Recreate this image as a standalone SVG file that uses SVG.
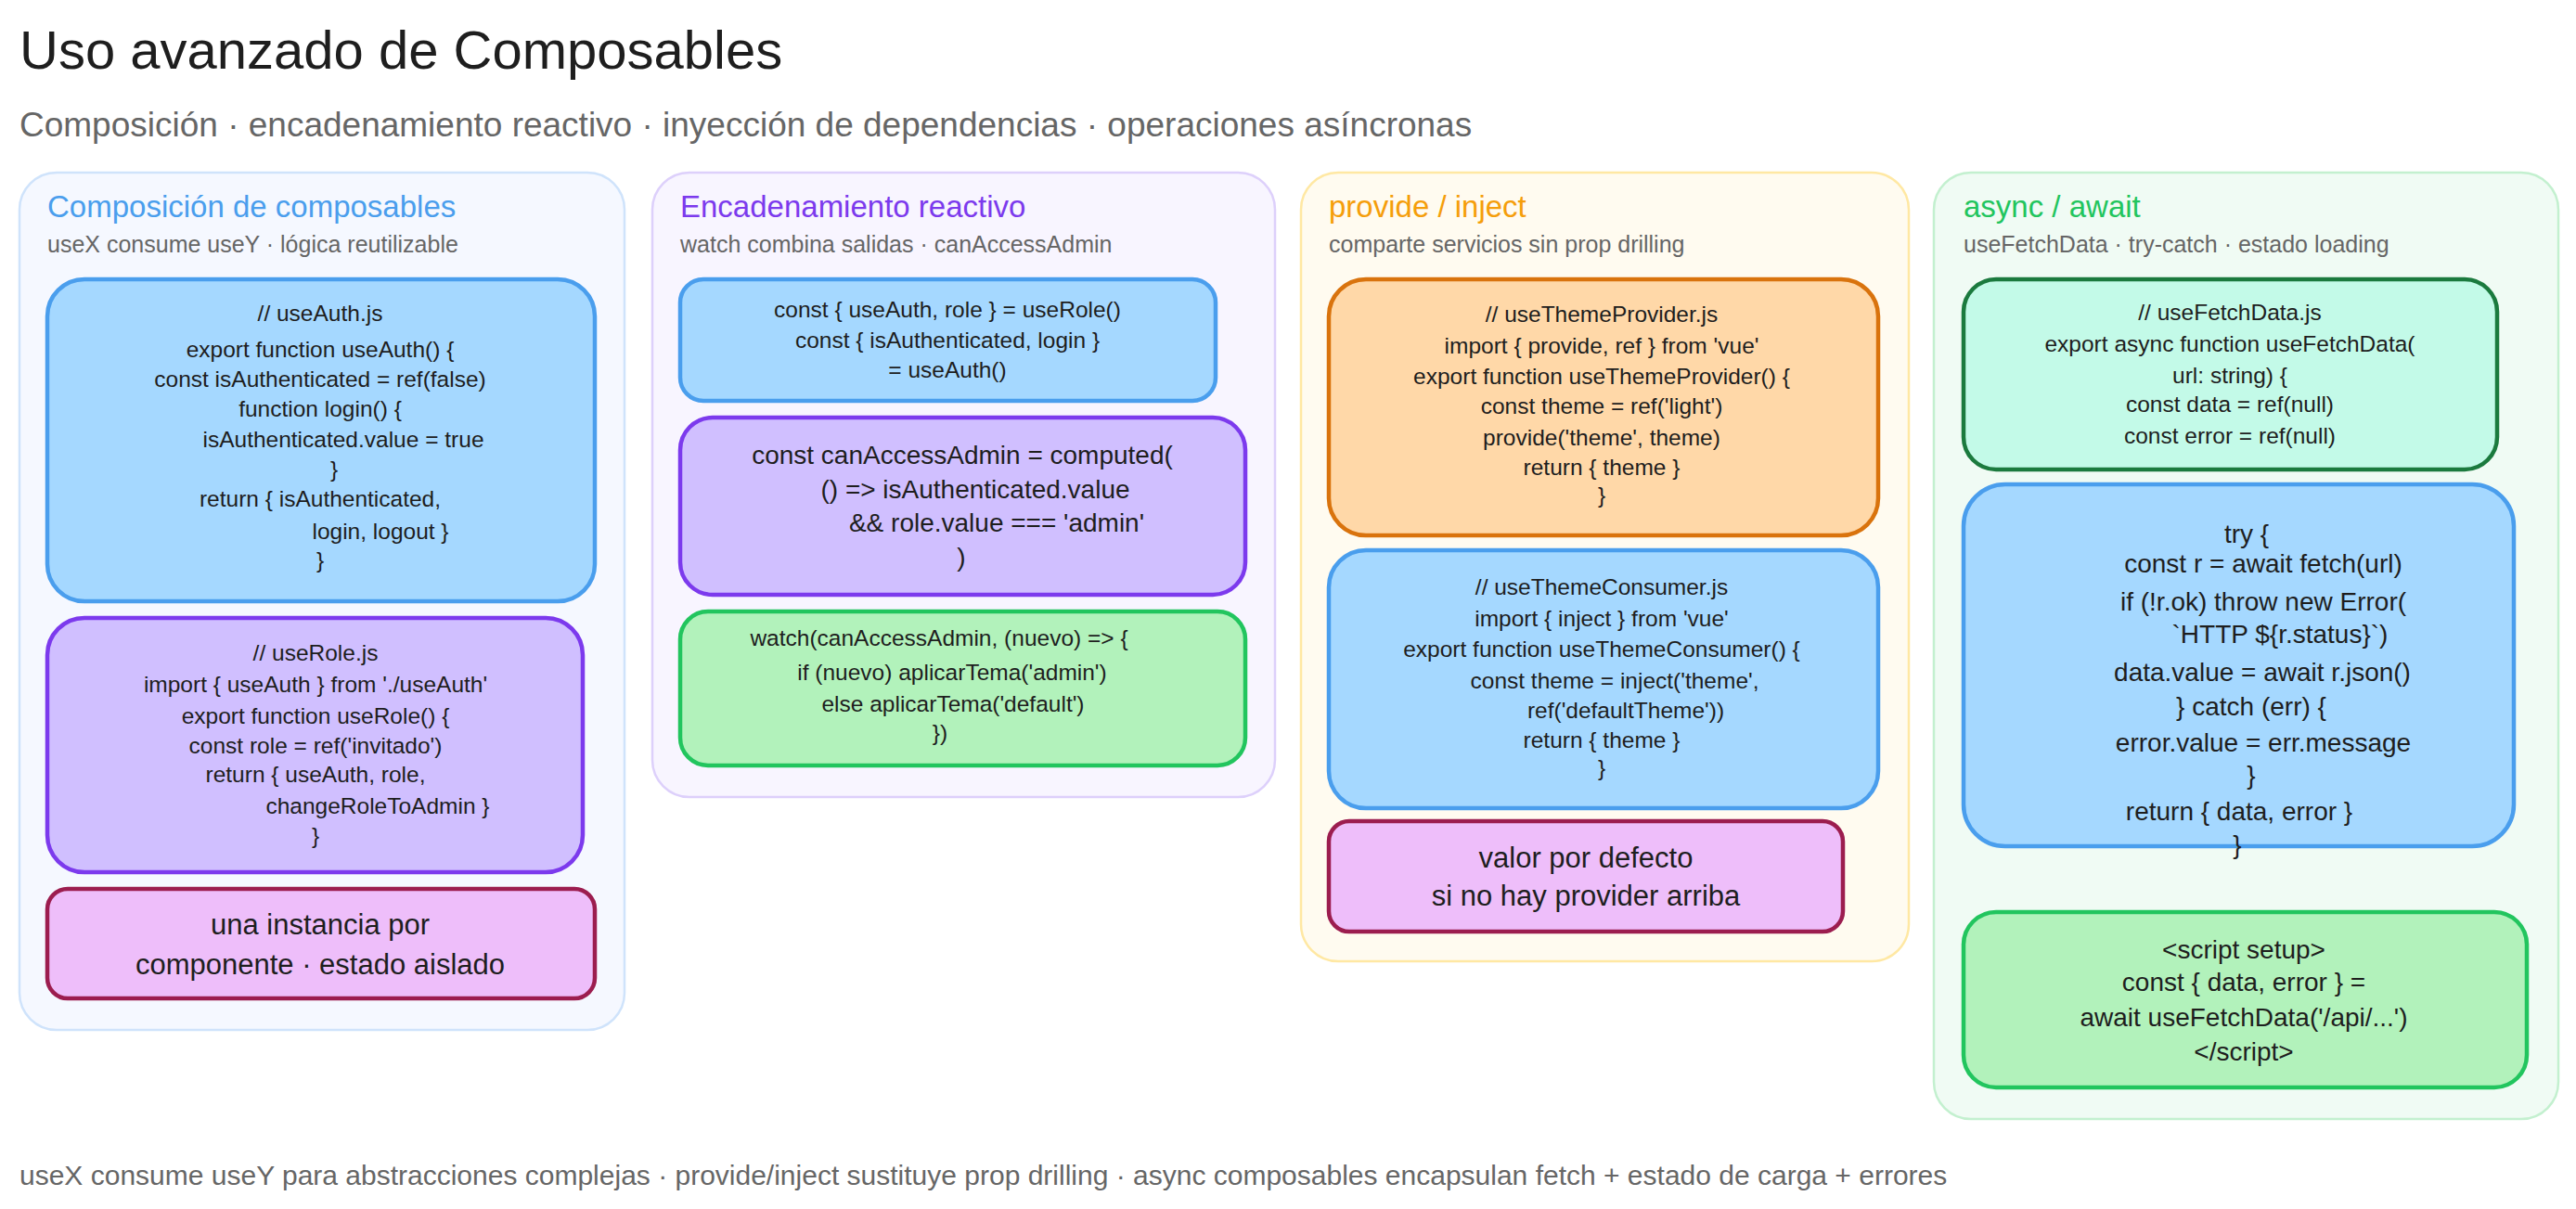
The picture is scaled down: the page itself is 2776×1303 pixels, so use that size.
<svg xmlns="http://www.w3.org/2000/svg" width="2776" height="1303" viewBox="0 0 2776 1303">
<style>
text{font-family:"Liberation Sans",Arial,sans-serif;fill:#1e1e1e}
.c{text-anchor:middle;font-size:24.5px}
.b{text-anchor:middle;font-size:28px}
.l{text-anchor:middle;font-size:31px}
.col{stroke-width:2.5}
.in{stroke-width:4.5}
.ht{font-size:33px}
.hs{font-size:25px;fill:#666}
</style>
<rect width="2776" height="1303" fill="#fff"/>
<text x="21" y="74" font-size="58" fill="#1e1e1e">Uso avanzado de Composables</text>
<text x="21" y="147" font-size="37" style="fill:#666">Composición · encadenamiento reactivo · inyección de dependencias · operaciones asíncronas</text>

<g id="col1">
<rect class="col" x="21" y="186" width="652" height="924" rx="40" fill="#f5f8ff" stroke="#cfe3fb"/>
<text x="51" y="234" class="ht" style="fill:#4a9eed">Composición de composables</text>
<text x="51" y="272" class="hs">useX consume useY · lógica reutilizable</text>
</g>
<g id="useAuth">
<rect class="in" x="51" y="301" width="590" height="347" rx="40" fill="#a5d8ff" stroke="#4a9eed"/>
<text class="c" x="345" y="346">// useAuth.js</text>
<text class="c" x="345" y="385">export function useAuth() {</text>
<text class="c" x="345" y="417">const isAuthenticated = ref(false)</text>
<text class="c" x="345" y="449">function login() {</text>
<text class="c" x="370" y="482">isAuthenticated.value = true</text>
<text class="c" x="360" y="514">}</text>
<text class="c" x="345" y="546">return { isAuthenticated,</text>
<text class="c" x="410" y="581">login, logout }</text>
<text class="c" x="345" y="612">}</text>
</g>
<g id="useRole">
<rect class="in" x="51" y="666" width="577" height="274" rx="40" fill="#d0bfff" stroke="#7c3aed"/>
<text class="c" x="340" y="712">// useRole.js</text>
<text class="c" x="340" y="746">import { useAuth } from './useAuth'</text>
<text class="c" x="340" y="780">export function useRole() {</text>
<text class="c" x="340" y="812">const role = ref('invitado')</text>
<text class="c" x="340" y="843">return { useAuth, role,</text>
<text class="c" x="407" y="877">changeRoleToAdmin }</text>
<text class="c" x="340" y="909">}</text>
</g>
<g id="instancia">
<rect class="in" x="51" y="958" width="590" height="118" rx="22" fill="#eebefa" stroke="#9c1d4f"/>
<text class="l" x="345" y="1007">una instancia por</text>
<text class="l" x="345" y="1050">componente · estado aislado</text>
</g>

<g id="col2">
<rect class="col" x="703" y="186" width="671" height="673" rx="40" fill="#f8f5ff" stroke="#ddd0fb"/>
<text x="733" y="234" class="ht" style="fill:#7c3aed">Encadenamiento reactivo</text>
<text x="733" y="272" class="hs">watch combina salidas · canAccessAdmin</text>
</g>
<g id="useRoleCall">
<rect class="in" x="733" y="301" width="577" height="131" rx="25" fill="#a5d8ff" stroke="#4a9eed"/>
<text class="c" x="1021" y="342">const { useAuth, role } = useRole()</text>
<text class="c" x="1021" y="375">const { isAuthenticated, login }</text>
<text class="c" x="1021" y="407">= useAuth()</text>
</g>
<g id="computed">
<rect class="in" x="733" y="450" width="609" height="191" rx="35" fill="#d0bfff" stroke="#7c3aed"/>
<text class="b" x="1037" y="500">const canAccessAdmin = computed(</text>
<text class="b" x="1051" y="537">() =&gt; isAuthenticated.value</text>
<text class="b" x="1074" y="573">&amp;&amp; role.value === 'admin'</text>
<text class="b" x="1036" y="610">)</text>
</g>
<g id="watch">
<rect class="in" x="733" y="659" width="609" height="166" rx="30" fill="#b2f2bb" stroke="#22c55e"/>
<text class="c" x="1012" y="696">watch(canAccessAdmin, (nuevo) =&gt; {</text>
<text class="c" x="1026" y="733">if (nuevo) aplicarTema('admin')</text>
<text class="c" x="1027" y="767">else aplicarTema('default')</text>
<text class="c" x="1013" y="798">})</text>
</g>

<g id="col3">
<rect class="col" x="1402" y="186" width="655" height="850" rx="40" fill="#fffbf0" stroke="#ffe8a3"/>
<text x="1432" y="234" class="ht" style="fill:#f59e0b">provide / inject</text>
<text x="1432" y="272" class="hs">comparte servicios sin prop drilling</text>
</g>
<g id="provider">
<rect class="in" x="1432" y="301" width="592" height="276" rx="40" fill="#ffd8a8" stroke="#d9730d"/>
<text class="c" x="1726" y="347">// useThemeProvider.js</text>
<text class="c" x="1726" y="381">import { provide, ref } from 'vue'</text>
<text class="c" x="1726" y="414">export function useThemeProvider() {</text>
<text class="c" x="1726" y="446">const theme = ref('light')</text>
<text class="c" x="1726" y="480">provide('theme', theme)</text>
<text class="c" x="1726" y="512">return { theme }</text>
<text class="c" x="1726" y="542">}</text>
</g>
<g id="consumer">
<rect class="in" x="1432" y="593" width="592" height="278" rx="40" fill="#a5d8ff" stroke="#4a9eed"/>
<text class="c" x="1726" y="641">// useThemeConsumer.js</text>
<text class="c" x="1726" y="675">import { inject } from 'vue'</text>
<text class="c" x="1726" y="708">export function useThemeConsumer() {</text>
<text class="c" x="1740" y="742">const theme = inject('theme',</text>
<text class="c" x="1752" y="774">ref('defaultTheme'))</text>
<text class="c" x="1726" y="806">return { theme }</text>
<text class="c" x="1726" y="836">}</text>
</g>
<g id="defecto">
<rect class="in" x="1432" y="885" width="554" height="119" rx="22" fill="#eebefa" stroke="#9c1d4f"/>
<text class="l" x="1709" y="935">valor por defecto</text>
<text class="l" x="1709" y="976">si no hay provider arriba</text>
</g>

<g id="col4">
<rect class="col" x="2084" y="186" width="673" height="1020" rx="40" fill="#f0fbf4" stroke="#c3f0cf"/>
<text x="2116" y="234" class="ht" style="fill:#22c55e">async / await</text>
<text x="2116" y="272" class="hs">useFetchData · try-catch · estado loading</text>
</g>
<g id="fetchDef">
<rect class="in" x="2116" y="301" width="575" height="205" rx="35" fill="#c3fae8" stroke="#1b7a3e"/>
<text class="c" x="2403" y="345">// useFetchData.js</text>
<text class="c" x="2403" y="379">export async function useFetchData(</text>
<text class="c" x="2403" y="413">url: string) {</text>
<text class="c" x="2403" y="444">const data = ref(null)</text>
<text class="c" x="2403" y="478">const error = ref(null)</text>
</g>
<g id="tryCatch">
<rect class="in" x="2116" y="522" width="593" height="390" rx="45" fill="#a5d8ff" stroke="#4a9eed"/>
<text class="b" x="2421" y="585">try {</text>
<text class="b" x="2439" y="617">const r = await fetch(url)</text>
<text class="b" x="2439" y="658">if (!r.ok) throw new Error(</text>
<text class="b" x="2457" y="693">`HTTP ${r.status}`)</text>
<text class="b" x="2438" y="734">data.value = await r.json()</text>
<text class="b" x="2426" y="771">} catch (err) {</text>
<text class="b" x="2439" y="810">error.value = err.message</text>
<text class="b" x="2426" y="845">}</text>
<text class="b" x="2413" y="884">return { data, error }</text>
<text class="b" x="2411" y="920">}</text>
</g>
<g id="scriptSetup">
<rect class="in" x="2116" y="983" width="607" height="189" rx="35" fill="#b2f2bb" stroke="#22c55e"/>
<text class="b" x="2418" y="1033">&lt;script setup&gt;</text>
<text class="b" x="2418" y="1068">const { data, error } =</text>
<text class="b" x="2418" y="1106">await useFetchData('/api/...')</text>
<text class="b" x="2418" y="1143">&lt;/script&gt;</text>
</g>
<g id="connectors"></g>
<text x="21" y="1277" font-size="30" style="fill:#666">useX consume useY para abstracciones complejas · provide/inject sustituye prop drilling · async composables encapsulan fetch + estado de carga + errores</text>
</svg>
